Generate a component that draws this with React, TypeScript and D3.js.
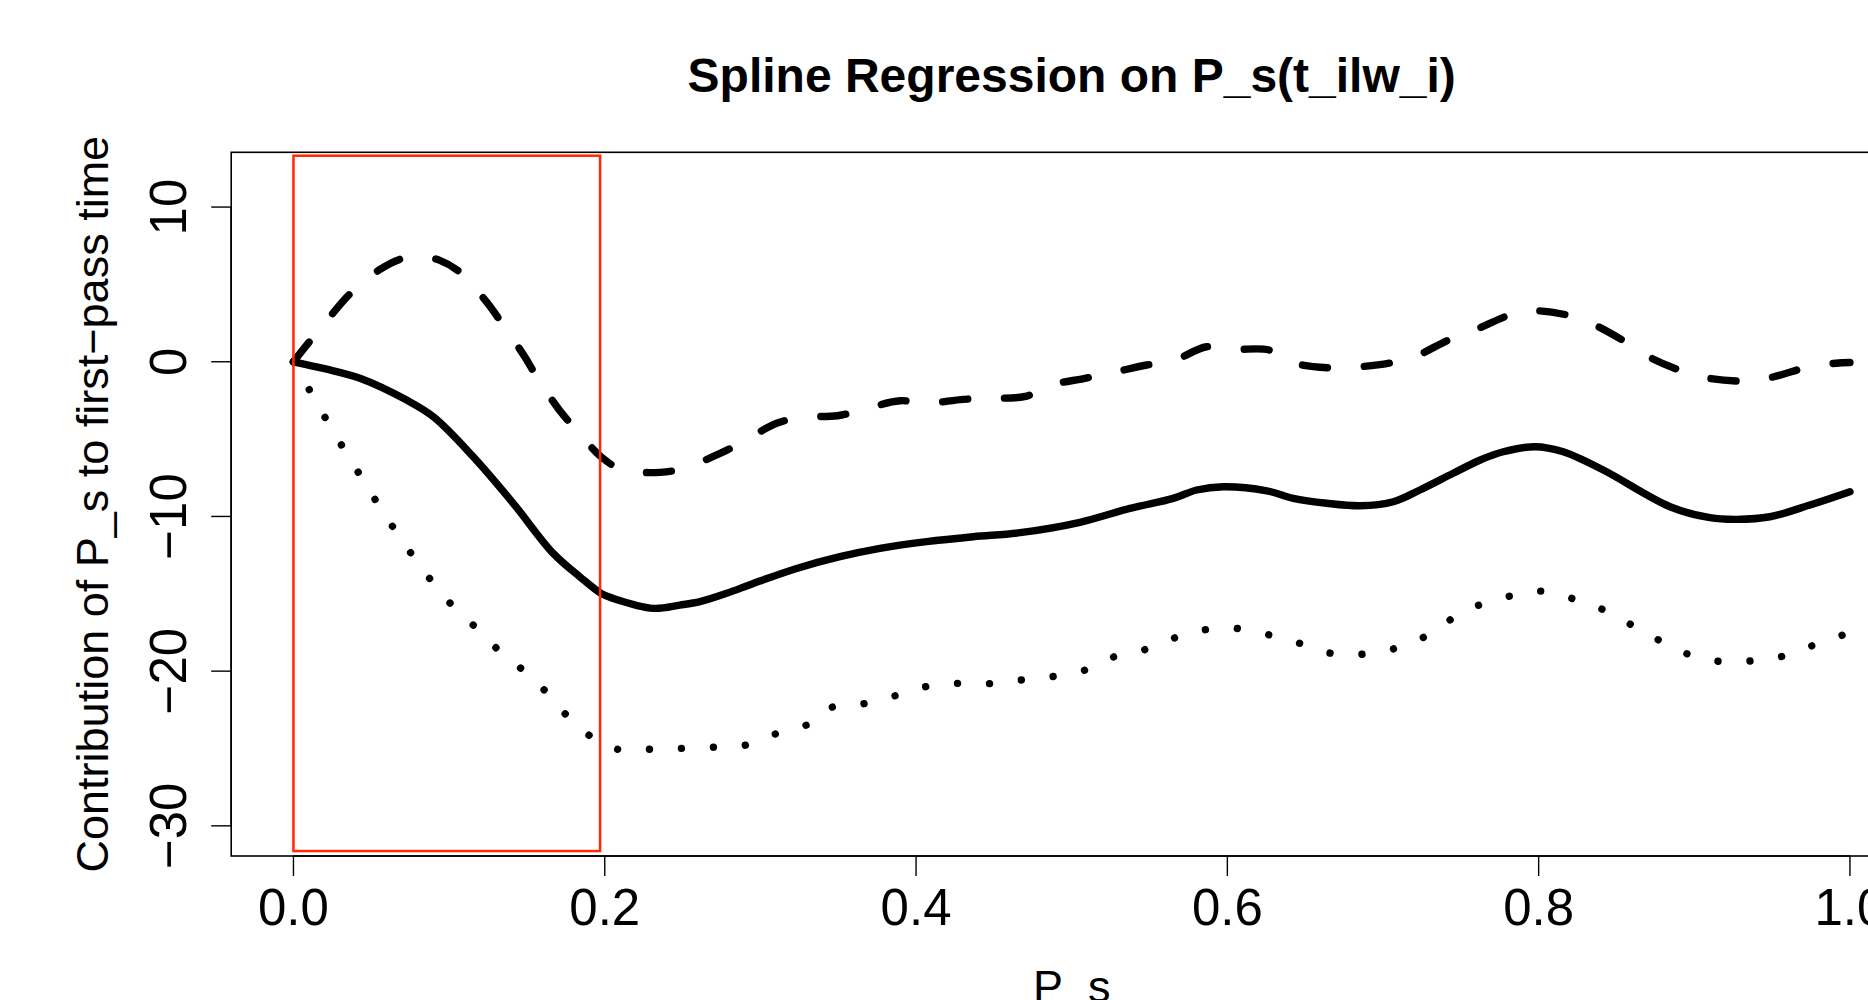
import React from "react";
import * as d3 from "d3";

const xTicks = [0, 0.2, 0.4, 0.6, 0.8, 1.0];
const xTickLabels = ["0.0", "0.2", "0.4", "0.6", "0.8", "1.0"];
const yTicks = [-30, -20, -10, 0, 10];
const yTickLabels = ["\u221230", "\u221220", "\u221210", "0", "10"];

const fitX = [0, 0.02, 0.0427, 0.0727, 0.0898, 0.1155, 0.1412, 0.1669, 0.184, 0.1976, 0.2055, 0.2312, 0.2483, 0.2612, 0.2783, 0.2954, 0.3233, 0.3511, 0.3768, 0.4068, 0.4367, 0.4668, 0.5053, 0.5374, 0.5652, 0.5803, 0.5974, 0.6253, 0.6423, 0.6638, 0.6852, 0.7066, 0.7237, 0.7451, 0.7625, 0.7773, 0.7976, 0.8158, 0.8415, 0.8844, 0.91, 0.9272, 0.9486, 0.9743, 1.0];
const fitY = [0, -0.45, -1.07, -2.48, -3.55, -6.14, -9.15, -12.39, -13.9, -14.97, -15.3, -15.94, -15.73, -15.51, -14.97, -14.33, -13.36, -12.6, -12.06, -11.63, -11.31, -11.05, -10.38, -9.48, -8.83, -8.29, -8.08, -8.34, -8.83, -9.15, -9.31, -9.05, -8.29, -7.21, -6.35, -5.82, -5.49, -5.82, -7.0, -9.37, -10.08, -10.19, -10.02, -9.26, -8.4];

const upperX = [0, 0.0102, 0.0256, 0.0367, 0.0556, 0.0702, 0.082, 0.0937, 0.108, 0.1245, 0.1337, 0.1483, 0.1563, 0.1708, 0.1809, 0.1976, 0.2109, 0.2355, 0.2504, 0.2751, 0.288, 0.3104, 0.3259, 0.3496, 0.365, 0.3897, 0.4057, 0.4303, 0.4464, 0.4711, 0.4849, 0.5085, 0.5257, 0.5482, 0.5649, 0.5867, 0.6038, 0.6269, 0.6413, 0.6648, 0.6809, 0.7066, 0.7216, 0.743, 0.758, 0.7815, 0.7966, 0.8212, 0.8362, 0.8582, 0.8715, 0.8951, 0.9096, 0.9353, 0.9512, 0.9754, 0.991, 1.0];
const upperY = [0, 1.29, 3.17, 4.42, 5.97, 6.68, 6.8, 6.57, 5.71, 3.81, 2.52, 0.37, -0.97, -3.12, -4.31, -6.14, -6.96, -7.15, -6.89, -5.88, -5.21, -3.98, -3.6, -3.49, -3.12, -2.52, -2.69, -2.43, -2.37, -2.22, -1.55, -1.07, -0.71, -0.21, 0.05, 0.97, 0.8, 0.76, -0.04, -0.39, -0.36, -0.04, 0.39, 1.45, 2.0, 3.02, 3.3, 2.95, 2.37, 1.14, 0.28, -0.71, -1.07, -1.25, -0.97, -0.28, -0.1, -0.05];

const lowerX = [0, 0.0102, 0.0204, 0.031, 0.0419, 0.0528, 0.0641, 0.0759, 0.0883, 0.1016, 0.1166, 0.1312, 0.1472, 0.1622, 0.1759, 0.1916, 0.2102, 0.2305, 0.2504, 0.2708, 0.2907, 0.31, 0.3297, 0.3468, 0.3667, 0.3866, 0.4064, 0.4267, 0.447, 0.4672, 0.4871, 0.5074, 0.526, 0.546, 0.5652, 0.5845, 0.6049, 0.6253, 0.6452, 0.6648, 0.6856, 0.7056, 0.7248, 0.7422, 0.7602, 0.7798, 0.7998, 0.8201, 0.8394, 0.8578, 0.8758, 0.8946, 0.9144, 0.9353, 0.9554, 0.9751, 0.9948, 1.0];
const lowerY = [0, -1.81, -3.62, -5.41, -7.19, -8.96, -10.71, -12.43, -14.11, -15.71, -17.13, -18.59, -19.91, -21.33, -22.9, -24.26, -25.1, -25.04, -24.99, -24.91, -24.78, -24.05, -23.48, -22.3, -22.1, -21.59, -21.0, -20.79, -20.81, -20.58, -20.36, -19.97, -19.11, -18.64, -17.88, -17.34, -17.23, -17.62, -18.16, -18.81, -18.91, -18.59, -17.88, -16.74, -15.79, -15.19, -14.82, -15.26, -15.94, -16.91, -17.92, -18.85, -19.35, -19.35, -19.07, -18.38, -17.69, -17.5];

const rectX = [0, 0.197];
const rectY = [-31.63, 13.32];

const title = "Spline Regression on P_s(t_ilw_i)";
const xLabel = "P_s";
const yLabel = "Contribution of P_s to first\u2212pass time";

const W = 1868;
const H = 1000;
const FONT = "'Liberation Sans', Arial, Helvetica, sans-serif";

export default function App() {
  const x = d3.scaleLinear().domain([-0.04, 1.04]).range([231.2, 1912.2]);
  const y = d3.scaleLinear().domain([-31.95, 13.54]).range([856, 152.3]);

  const line = d3
    .line<[number, number]>()
    .x((d) => x(d[0]))
    .y((d) => y(d[1]))
    .curve(d3.curveCatmullRom.alpha(0.5));

  const zip = (a: number[], b: number[]) => a.map((v, i) => [v, b[i]] as [number, number]);

  const [r0, r1] = x.range();
  const [b0, t0] = y.range();

  return (
    <svg
      width={W}
      height={H}
      style={{ position: "absolute", left: 0, top: 0, background: "#fff" }}
      fontFamily={FONT}
    >
      <rect x={0} y={0} width={W} height={H} fill="#fff" />
      {/* plot box */}
      <rect x={r0} y={t0} width={r1 - r0} height={b0 - t0} fill="none" stroke="#000" strokeWidth={1.6} />

      {/* curves */}
      <path d={line(zip(fitX, fitY)) || ""} fill="none" stroke="#000" strokeWidth={7.4} strokeLinejoin="round" strokeLinecap="round" />
      <path d={line(zip(upperX, upperY)) || ""} fill="none" stroke="#000" strokeWidth={7.4} strokeLinejoin="round" strokeLinecap="round" strokeDasharray="25 37" />
      <path d={line(zip(lowerX, lowerY)) || ""} fill="none" stroke="#000" strokeWidth={7.4} strokeLinejoin="round" strokeLinecap="round" strokeDasharray="0.01 32" />

      {/* red highlight rectangle (drawn on top) */}
      <rect
        x={x(rectX[0])}
        y={y(rectY[1])}
        width={x(rectX[1]) - x(rectX[0])}
        height={y(rectY[0]) - y(rectY[1])}
        fill="none"
        stroke="#ff2a00"
        strokeWidth={2.5}
      />

      {/* x axis */}
      <line x1={x(xTicks[0])} x2={x(xTicks[xTicks.length - 1])} y1={b0} y2={b0} stroke="#000" strokeWidth={1.6} />
      {xTicks.map((t, i) => (
        <g key={"xt" + i}>
          <line x1={x(t)} x2={x(t)} y1={b0} y2={b0 + 20} stroke="#000" strokeWidth={1.4} />
          <text x={x(t)} y={925} textAnchor="middle" fontSize={51} fill="#000">
            {xTickLabels[i]}
          </text>
        </g>
      ))}

      {/* y axis */}
      <line x1={r0} x2={r0} y1={y(yTicks[0])} y2={y(yTicks[yTicks.length - 1])} stroke="#000" strokeWidth={1.6} />
      {yTicks.map((t, i) => (
        <g key={"yt" + i}>
          <line x1={r0 - 20} x2={r0} y1={y(t)} y2={y(t)} stroke="#000" strokeWidth={1.4} />
          <text
            transform={`translate(186,${y(t)}) rotate(-90)`}
            textAnchor="middle"
            fontSize={51}
            fill="#000"
          >
            {yTickLabels[i]}
          </text>
        </g>
      ))}

      {/* titles */}
      <text x={(r0 + r1) / 2} y={92} textAnchor="middle" fontSize={48} fontWeight="bold" fill="#000">
        {title}
      </text>
      <text x={(r0 + r1) / 2} y={1002} textAnchor="middle" fontSize={45} fill="#000">
        {xLabel}
      </text>
      <text transform={`translate(108,${(b0 + t0) / 2}) rotate(-90)`} textAnchor="middle" fontSize={45} fill="#000">
        {yLabel}
      </text>
    </svg>
  );
}
